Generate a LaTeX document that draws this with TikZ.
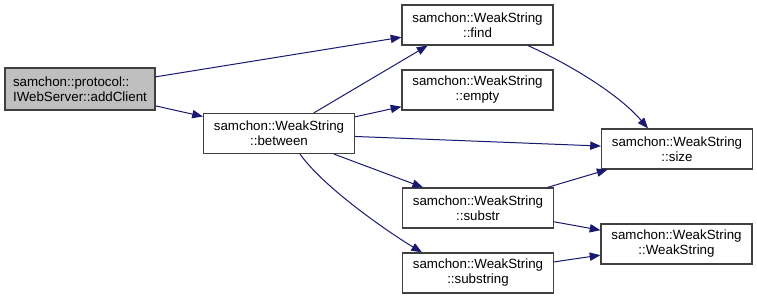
\documentclass[tikz,border=0pt]{standalone}
\usepackage{fontspec}
\setmainfont{Liberation Sans}
\usetikzlibrary{arrows.meta,calc}
\definecolor{dxedge}{HTML}{191970}
\definecolor{dxborder}{HTML}{404040}
\definecolor{dxroot}{HTML}{BFBFBF}
\tikzset{
  fn/.style   = {rectangle, draw=dxborder, line width=0.9pt, fill=white, align=center,
                 minimum width=113.25pt, minimum height=30pt, inner sep=0pt,
                 font=\fontsize{10}{11.25}\selectfont},
  root/.style = {fn, fill=dxroot, align=left, minimum width=112.5pt, minimum height=31.5pt},
  call/.style = {-{Triangle[length=8pt,width=6.2pt]}, draw=dxedge, line width=0.75pt},
}

\begin{document}
\begin{tikzpicture}[x=0.75pt, y=-0.75pt]
\useasboundingbox (0,0) rectangle (757,300);

\node[root] (addclient) at (80,89) {samchon::protocol::\\IWebServer::addClient};
\node[fn] (between) at (279,133.5) {samchon::WeakString\\::between};
\node[fn] (find) at (477.5,25) {samchon::WeakString\\::find};
\node[fn] (empty) at (477.5,90) {samchon::WeakString\\::empty};
\node[fn] (substr) at (478,208) {samchon::WeakString\\::substr};
\node[fn] (substring) at (478,273) {samchon::WeakString\\::substring};
\node[fn] (size) at (677,149) {samchon::WeakString\\::size};
\node[fn] (ctor) at (676.5,244) {samchon::WeakString\\::WeakString};

\draw[call] (addclient) -- (find);
\draw[call] (addclient) -- (between);
\draw[call] (between) -- ($(find.south)+(-50,0)$);
\draw[call] (between) -- (empty);
\draw[call] (between) -- (size);
\draw[call] (between) -- (substr);
\draw[call] ($(between.south)+(21,0)$) .. controls +(25,35) and +(-30,-18) .. ($(substring.north)+(-56,0)$);
\draw[call] ($(find.south)+(50.5,0)$) .. controls +(40,18) and +(-30,-35) .. ($(size.north)+(-29,0)$);
\draw[call] (substr) -- (size);
\draw[call] (substr) -- (ctor);
\draw[call] (substring) -- (ctor);

\end{tikzpicture}
\end{document}
